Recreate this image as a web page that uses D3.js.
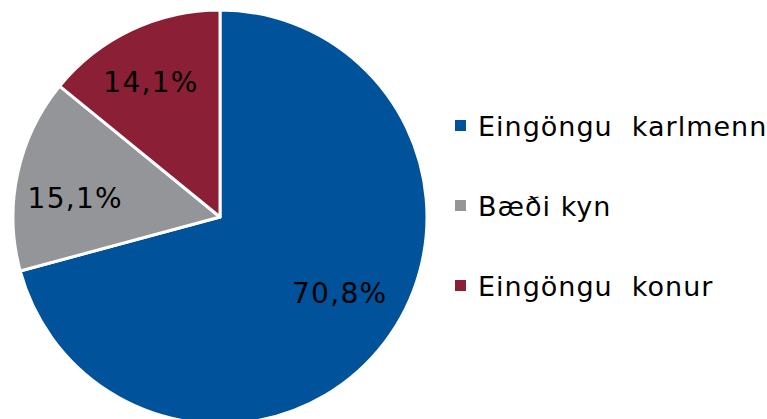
<!DOCTYPE html>
<html>
<head>
<meta charset="utf-8">
<script src="https://cdn.jsdelivr.net/npm/d3@7"></script>
<style>
  body { margin: 0; background: #fff; }
  text { font-family: "DejaVu Sans", Verdana, sans-serif; fill: #000; }
</style>
</head>
<body>
<div id="chart"></div>
<script>
// data
const categories = ["Eingöngu  karlmenn", "Bæði kyn", "Eingöngu  konur"];
const values = [70.8, 15.1, 14.1];
const labels = ["70,8%", "15,1%", "14,1%"];
const colors = ["#00529b", "#939598", "#8b1f35"];

const width = 767, height = 419;
const cx = 220, cy = 217, radius = 207;

// small nudges so the labels sit where the original placed them
const labelNudge = [[3, -13], [-1, 12], [-6, -2]];

const svg = d3.select("#chart")
    .append("svg")
    .attr("width", width)
    .attr("height", height);

const g = svg.append("g")
    .attr("transform", `translate(${cx}, ${cy})`);

const pie = d3.pie().sort(null).value(d => d);
const arcs = pie(values);

const arc = d3.arc().innerRadius(0).outerRadius(radius);
const labelArc = d3.arc().innerRadius(radius * 0.71).outerRadius(radius * 0.71);

// slices
g.selectAll("path")
    .data(arcs)
    .join("path")
    .attr("d", arc)
    .attr("fill", (d, i) => colors[i])
    .attr("stroke", "#fff")
    .attr("stroke-width", 3)
    .attr("stroke-linejoin", "round");

// slice labels
g.selectAll("text.lbl")
    .data(arcs)
    .join("text")
    .attr("class", "lbl")
    .attr("transform", (d, i) => {
        const c = labelArc.centroid(d);
        return `translate(${c[0] + labelNudge[i][0]}, ${c[1] + labelNudge[i][1]})`;
    })
    .attr("text-anchor", "middle")
    .attr("dy", "0.36em")
    .style("font-size", "28px")
    .style("letter-spacing", "1.3px")
    .text((d, i) => labels[i]);

// legend
const legend = svg.append("g")
    .attr("transform", "translate(455, 0)");

const rowY = d3.scalePoint().domain(categories).range([126, 286]);

const item = legend.selectAll("g")
    .data(categories)
    .join("g")
    .attr("transform", d => `translate(0, ${rowY(d)})`);

item.append("rect")
    .attr("x", 0)
    .attr("y", -6)
    .attr("width", 11)
    .attr("height", 11)
    .attr("fill", (d, i) => colors[i]);

item.append("text")
    .attr("x", 23)
    .attr("y", 10)
    .style("font-size", "27px")
    .style("letter-spacing", "1px")
    .style("white-space", "pre")
    .text(d => d);
</script>
</body>
</html>
